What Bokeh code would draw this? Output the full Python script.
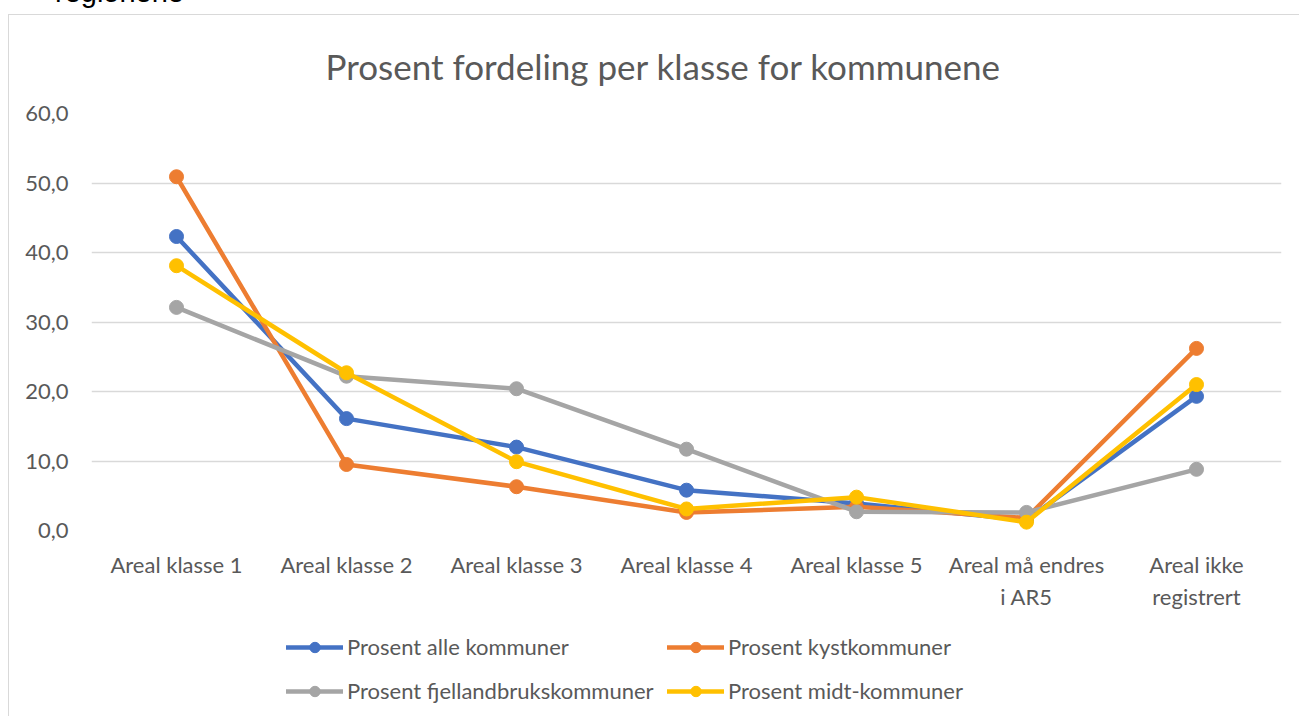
from bokeh.plotting import figure
from bokeh.models import (FactorRange, Range1d, FixedTicker, CustomJSTickFormatter, Legend, LegendItem,
                          Title, InlineStyleSheet)
from bokeh.layouts import column
from bokeh.embed import file_html
from bokeh.resources import INLINE

categories = ["Areal klasse 1", "Areal klasse 2", "Areal klasse 3", "Areal klasse 4",
              "Areal klasse 5", "Areal må endres\ni AR5", "Areal ikke\nregistrert"]
alle = [42.3, 16.1, 12.0, 5.8, 3.9, 1.5, 19.3]
kyst = [50.9, 9.5, 6.3, 2.6, 3.4, 1.8, 26.2]
fjell = [32.1, 22.2, 20.4, 11.7, 2.7, 2.6, 8.8]
midt = [38.1, 22.7, 9.9, 3.1, 4.8, 1.2, 21.0]
series_names = ["Prosent alle kommuner", "Prosent kystkommuner",
                "Prosent fjellandbrukskommuner", "Prosent midt-kommuner"]
series_colors = ["#4472C4", "#ED7D31", "#A5A5A5", "#FFC000"]
y_ticks = [0, 10, 20, 30, 40, 50, 60]

FONT = "Lato"
TXT = "#595959"
GRID = "#D9D9D9"

p = figure(width=1299, height=620, x_range=FactorRange(*categories), y_range=Range1d(0, 60),
           output_backend="svg", toolbar_location=None,
           min_border_left=91, min_border_right=18, min_border_top=113, min_border_bottom=90)
css_main = """
:host::after {
  content: ""; position: absolute; left: 8px; top: 14px; width: 1291px; height: 606px;
  box-sizing: border-box; border-left: 1.5px solid #D9D9D9; border-top: 1.5px solid #D9D9D9;
  pointer-events: none; z-index: 10;
}
:host::before {
  content: "regionene"; position: absolute; left: 55px; top: -25px; font-family: Lato;
  font-size: 29px; line-height: 35px; color: #000; white-space: nowrap; z-index: 10;
}
"""
p.stylesheets = [InlineStyleSheet(css=css_main)]
p.outline_line_color = None
p.background_fill_color = "white"
p.border_fill_color = "white"

p.xgrid.grid_line_color = None
p.ygrid.grid_line_color = GRID
p.ygrid.grid_line_width = 1.3

p.yaxis.ticker = FixedTicker(ticks=y_ticks)
p.yaxis.formatter = CustomJSTickFormatter(code="return tick.toFixed(1).replace('.', ',');")
for ax in (p.xaxis[0], p.yaxis[0]):
    ax.axis_line_color = None
    ax.major_tick_line_color = None
    ax.minor_tick_line_color = None
    ax.major_tick_out = 0
    ax.major_label_text_font = FONT
    ax.major_label_text_font_size = "22px"
    ax.major_label_text_color = TXT
p.yaxis.major_label_standoff = 23
p.xaxis.major_label_standoff = 20
p.xaxis.major_label_orientation = "horizontal"

for name, vals, col in zip(series_names, [alle, kyst, fjell, midt], series_colors):
    p.line(categories, vals, line_color=col, line_width=4.5, line_join="round", line_cap="round")
    p.scatter(categories, vals, size=14, fill_color=col, line_color=col)

p.title = Title(text="Prosent fordeling per klasse for kommunene", align="left", offset=234,
                standoff=54, text_font=FONT, text_font_size="35px", text_font_style="normal",
                text_color=TXT)

# legend strip below the chart (separate figure so the legend is never clipped)
lf = figure(width=1299, height=96, x_range=Range1d(0, 1), y_range=Range1d(0, 1),
            output_backend="svg", toolbar_location=None,
            min_border_left=0, min_border_right=0, min_border_top=0, min_border_bottom=0)
lf.axis.visible = False
lf.grid.visible = False
lf.outline_line_color = None
lf.background_fill_color = "white"
lf.border_fill_color = "white"
css_leg = """
:host::after {
  content: ""; position: absolute; left: 8px; top: 0px; width: 2px; height: 96px;
  box-sizing: border-box; border-left: 1.5px solid #D9D9D9; pointer-events: none; z-index: 10;
}
"""
lf.stylesheets = [InlineStyleSheet(css=css_leg)]

# legend-only proxy renderers, placed outside the visible range of the strip
items = []
for name, col in zip(series_names, series_colors):
    lr = lf.line(x=[-5, -4], y=[-5, -4], line_color=col, line_width=4.5, line_cap="round")
    sr = lf.scatter(x=[-5], y=[-5], size=13, fill_color=col, line_color=col)
    items.append(LegendItem(label=name, renderers=[lr, sr]))

for row_items, ybot in ((items[:2], 56), (items[2:], 12)):
    lg = Legend(items=row_items, orientation="horizontal", location=(195, ybot),
                glyph_width=57, glyph_height=26, label_height=26, label_standoff=4, spacing=10,
                label_width=310, label_text_font=FONT, label_text_font_size="22px",
                label_text_color=TXT, border_line_color=None, background_fill_alpha=0,
                padding=0, margin=0)
    lf.add_layout(lg, "center")

layout = column(p, lf, spacing=0)
open("out.html", "w").write(file_html(layout, INLINE))
